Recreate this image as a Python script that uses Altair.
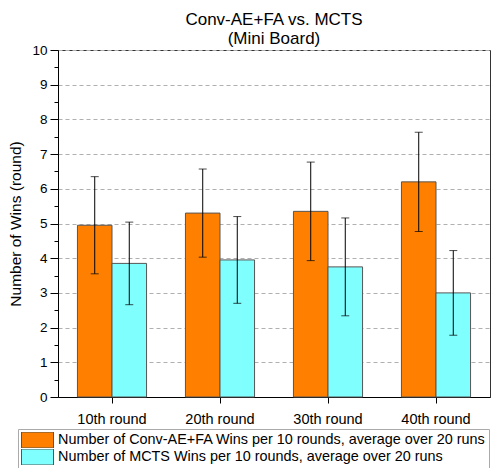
import altair as alt
import pandas as pd

rounds = ["10th round", "20th round", "30th round", "40th round"]
series = [
    "Number of Conv-AE+FA Wins per 10 rounds, average over 20 runs",
    "Number of MCTS Wins per 10 rounds, average over 20 runs",
]
conv_mean = [4.95, 5.30, 5.35, 6.20]
conv_err = [1.40, 1.27, 1.42, 1.43]
mcts_mean = [3.85, 3.95, 3.75, 3.00]
mcts_err = [1.19, 1.25, 1.41, 1.22]
colors = ["#FF8000", "#80FFFF"]

rows = []
for i, r in enumerate(rounds):
    for s, m, e in ((series[0], conv_mean, conv_err), (series[1], mcts_mean, mcts_err)):
        rows.append({"round": r, "series": s, "mean": m[i], "lo": m[i] - e[i], "hi": m[i] + e[i]})
df = pd.DataFrame(rows)

FONT = "Liberation Sans"
yticks = [v / 2 for v in range(0, 21)]

x = alt.X("round:N", sort=rounds,
          scale=alt.Scale(paddingInner=0.36, paddingOuter=0.18),
          axis=alt.Axis(title=None, labelAngle=0, labelFontSize=14.5, tickSize=6,
                        labelPadding=9, domainColor="black", tickColor="black",
                        labelColor="black", labelFont=FONT))
xo = alt.XOffset("series:N", sort=series, scale=alt.Scale(paddingInner=0, paddingOuter=0))

yaxis = alt.Axis(title="Number of Wins (round)", values=yticks,
                 labelExpr="datum.value % 1 === 0 ? format(datum.value, 'd') : ''",
                 labelOverlap=False,
                 tickSize={"condition": {"test": "datum.value % 1 !== 0", "value": 4}, "value": 8},
                 grid=True,
                 gridOpacity={"condition": {"test": "datum.value % 1 !== 0", "value": 0}, "value": 1},
                 gridDash=[4, 3], gridColor="#b0b0b0",
                 labelFontSize=13.5, labelPadding=3, labelColor="black", labelFont=FONT,
                 titleFontSize=15.5, titleFontWeight="normal", titleFont=FONT,
                 titleColor="black", titlePadding=8,
                 domainColor="black", tickColor="black")
yscale = alt.Scale(domain=[0, 10], nice=False)

base = alt.Chart(df)

bars = base.mark_bar(stroke="#555555", strokeWidth=1).encode(
    x=x, xOffset=xo,
    y=alt.Y("mean:Q", scale=yscale, axis=yaxis),
    color=alt.Color("series:N", sort=series,
                    scale=alt.Scale(domain=series, range=colors),
                    legend=alt.Legend(title=None, orient="none", legendX=-40, legendY=379,
                                      direction="vertical",
                                      symbolType="M-2,-1H2V1H-2Z", symbolSize=256,
                                      symbolOffset=8,
                                      symbolStrokeColor="#555555", symbolStrokeWidth=1,
                                      symbolOpacity=1,
                                      labelFontSize=14.4, labelFont=FONT, labelColor="black",
                                      labelLimit=0, labelOffset=12, clipHeight=16,
                                      strokeColor="#aaaaaa", fillColor="white", padding=3,
                                      rowPadding=1)),
)

err = base.mark_rule(color="black", strokeWidth=1).encode(
    x=x, xOffset=xo, y=alt.Y("lo:Q", scale=yscale, axis=yaxis), y2="hi:Q")
cap_lo = base.mark_tick(color="black", thickness=1, size=8).encode(
    x=x, xOffset=xo, y=alt.Y("lo:Q", scale=yscale, axis=yaxis))
cap_hi = base.mark_tick(color="black", thickness=1, size=8).encode(
    x=x, xOffset=xo, y=alt.Y("hi:Q", scale=yscale, axis=yaxis))

chart = alt.layer(bars, err, cap_lo, cap_hi).properties(
    width=432, height=347,
    title=alt.TitleParams(["Conv-AE+FA vs. MCTS", "(Mini Board)"], fontSize=17,
                          fontWeight="normal", font=FONT, color="black",
                          anchor="middle", lineHeight=19, offset=-5),
    autosize=alt.AutoSizeParams(type="none"),
    padding={"left": 58, "top": 50, "right": 6, "bottom": 71},
).configure_view(stroke="#333333", strokeWidth=1)

chart.save("out.html", embed_options={"renderer": "svg", "actions": False})
